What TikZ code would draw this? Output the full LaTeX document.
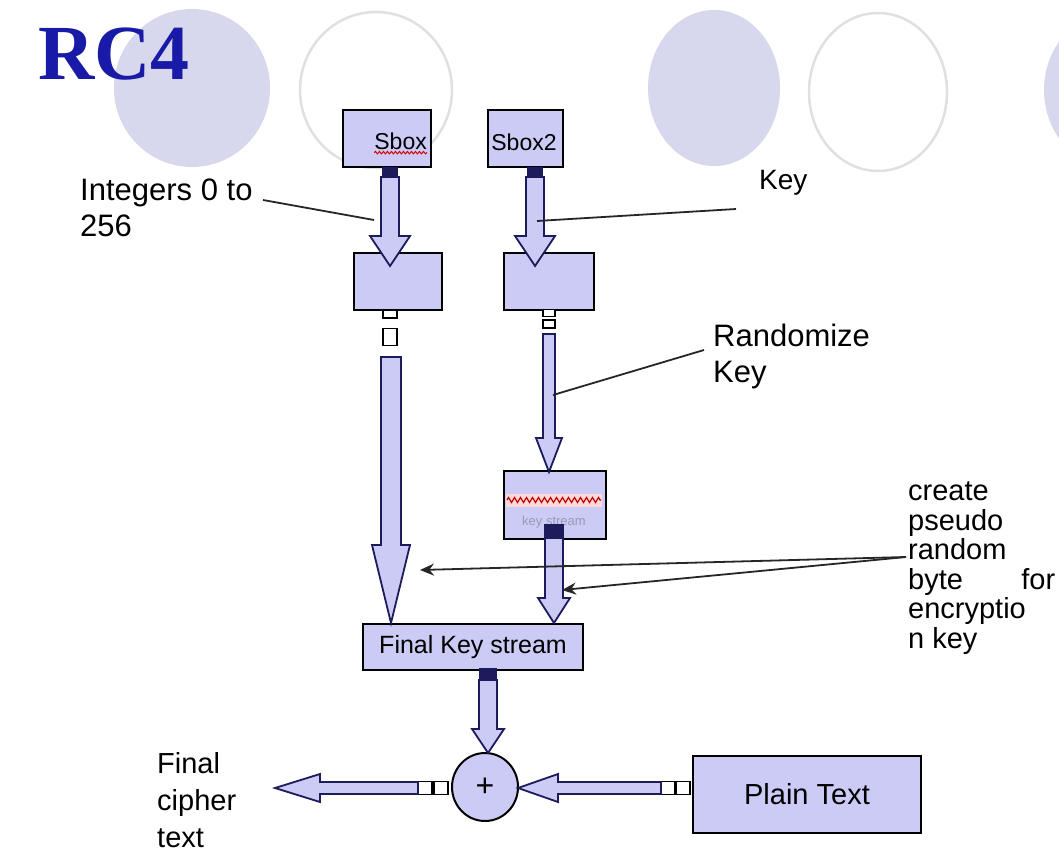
\documentclass[tikz,border=0pt]{standalone}
\usepackage{fontspec}
\setmainfont{Liberation Sans}
\newfontfamily\titlefont{Liberation Serif}
\usetikzlibrary{calc,decorations.pathmorphing,arrows.meta,shapes.geometric}
\definecolor{lav}{HTML}{CBCBF5}
\definecolor{bgdisc}{HTML}{D7D7EE}
\definecolor{ring}{HTML}{E0E0E0}
\definecolor{navy}{HTML}{1C1C5C}
\definecolor{titleblue}{HTML}{1A1AA8}
\tikzset{
  box/.style={draw=black, line width=2pt, fill=lav, inner sep=0pt, anchor=north west},
  barrow/.style={draw=navy, line width=1.8pt, fill=lav, line join=miter},
  port/.style={draw=black, line width=1.5pt, fill=white, inner sep=0pt},
  darkport/.style={draw=navy, line width=1.5pt, fill=navy, inner sep=0pt},
  leader/.style={draw=black!85, line width=1.8pt},
  lbl/.style={font=\fontsize{31}{36}\selectfont, align=left, inner sep=0pt, anchor=north west},
  boxtext/.style={font=\fontsize{23}{26}\selectfont, inner sep=0pt},
}
\newcommand\vba[5]{\draw[barrow] let \p1=(#1), \p2=(#2) in
  (\x1-#3pt,\y1) -- (\x1-#3pt,\y2+#5pt) -- (\x1-#4pt,\y2+#5pt) -- (\x1,\y2) --
  (\x1+#4pt,\y2+#5pt) -- (\x1+#3pt,\y2+#5pt) -- (\x1+#3pt,\y1) -- cycle;}
\newcommand\hba[5]{\draw[barrow] let \p1=(#1), \p2=(#2) in
  (\x1,\y1+#3pt) -- (\x2+#5pt,\y1+#3pt) -- (\x2+#5pt,\y1+#4pt) -- (\x2,\y1) --
  (\x2+#5pt,\y1-#4pt) -- (\x2+#5pt,\y1-#3pt) -- (\x1,\y1-#3pt) -- cycle;}
\begin{document}
\begin{tikzpicture}[x=1pt,y=-1pt]
\useasboundingbox (0,0) rectangle (1059,861);
\fill[white] (0,0) rectangle (1059,861);
% background decoration
\begin{scope}
\clip (0,0) rectangle (1059,861);
\fill[bgdisc] (192,88) ellipse [x radius=78, y radius=79];
\draw[ring, line width=2.5pt] (376,90) ellipse [x radius=76, y radius=78];
\fill[bgdisc] (714,88) ellipse [x radius=66, y radius=78];
\draw[ring, line width=2.5pt] (878,92) ellipse [x radius=69, y radius=79];
\fill[bgdisc] (1112,90) ellipse [x radius=68, y radius=77];
\end{scope}
% title
\node[font=\titlefont\bfseries\fontsize{78}{80}\selectfont, text=titleblue, inner sep=0pt, anchor=south west] (title) at (38,80) {RC4};

% boxes
\node[box, minimum width=88pt, minimum height=57pt] (sbox) at (342,109) {};
\node[boxtext, anchor=east] (sboxlbl) at (427,141) {Sbox};
\draw[red!85!black, line width=1pt, decorate, decoration={snake, amplitude=1.2pt, segment length=4pt}]
  ([yshift=-3pt]sboxlbl.south west) -- ([yshift=-3pt]sboxlbl.south east);
\node[box, minimum width=75pt, minimum height=57pt] (sbox2) at (487,109) {};
\node[boxtext] (sbox2lbl) at (524,142) {Sbox2};
\node[box, minimum width=88pt, minimum height=57pt] (mid1) at (353,252) {};
\node[box, minimum width=90pt, minimum height=57pt] (mid2) at (503,252) {};
\node[box, minimum width=102pt, minimum height=68pt] (wavy) at (503,470) {};
\fill[pink!60] (506,494) rectangle (602,507);
\draw[red!75!black, line width=1.2pt, decorate, decoration={zigzag, amplitude=2.5pt, segment length=6pt}]
  (507,500) -- (601,500);
\node[font=\fontsize{13}{15}\selectfont, text=navy!45, inner sep=0pt] (wavylbl) at (554,522) {key stream};
\node[box, minimum width=220pt, minimum height=46pt, font=\fontsize{25}{28}\selectfont] (fks) at (362,623) {Final Key stream};
\node[draw=black, line width=2pt, fill=lav, ellipse, minimum width=66pt, minimum height=68pt, inner sep=0pt,
  font=\fontsize{32}{34}\selectfont] (xor) at (485,787) {+};
\node[box, minimum width=228pt, minimum height=77pt, font=\fontsize{29}{32}\selectfont] (plain) at (692,755) {Plain Text};

% ports
\node[darkport, minimum width=14pt, minimum height=9pt] (p1) at (390,172) {};
\node[darkport, minimum width=14pt, minimum height=9pt] (p2) at (535,172) {};
\node[port, minimum width=14pt, minimum height=8pt] (p3) at (390,314) {};
\node[port, minimum width=14pt, minimum height=17pt] (p4) at (390,337) {};
\node[port, minimum width=12pt, minimum height=7pt] (p5) at (549,313) {};
\node[port, minimum width=12pt, minimum height=8pt] (p6) at (549,324) {};
\node[darkport, minimum width=18pt, minimum height=12pt] (p7) at (554,531) {};
\node[darkport, minimum width=16pt, minimum height=11pt] (p8) at (488,674) {};
\node[port, minimum width=14pt, minimum height=13pt] (p9) at (441,788) {};
\node[port, minimum width=14pt, minimum height=13pt] (p10) at (425,788) {};
\node[port, minimum width=14pt, minimum height=13pt] (p11) at (683,788) {};
\node[port, minimum width=14pt, minimum height=13pt] (p12) at (668,788) {};

% block arrows
\coordinate (a1s) at (390,177); \coordinate (a1t) at (390,266);
\coordinate (a2s) at (535,177); \coordinate (a2t) at (535,266);
\coordinate (a3s) at (391,357); \coordinate (a3t) at (391,623);
\coordinate (a4s) at (549,334); \coordinate (a4t) at (549,472);
\coordinate (a5s) at (554,538); \coordinate (a5t) at (554,623);
\coordinate (a6s) at (488,680); \coordinate (a6t) at (488,753);
\coordinate (a7s) at (418,788); \coordinate (a7t) at (275,788);
\coordinate (a8s) at (661,788); \coordinate (a8t) at (518,788);
\vba{a1s}{a1t}{9}{20}{30}
\vba{a2s}{a2t}{9}{20}{30}
\vba{a3s}{a3t}{10}{19}{78}
\vba{a4s}{a4t}{6}{13}{34}
\vba{a5s}{a5t}{9}{16}{25}
\vba{a6s}{a6t}{9}{16}{24}
\hba{a7s}{a7t}{6}{14}{45}
\hba{a8s}{a8t}{6}{14}{40}

% labels
\node[lbl] (ints) at (80,179) {Integers 0 to\\256};
\node[lbl, font=\fontsize{28}{32}\selectfont] (keylbl) at (759,170) {Key};
\node[lbl] (rand) at (713,324) {Randomize\\Key};
\node[lbl, font=\fontsize{29}{29.5}\selectfont] (prng) at (908,482)
  {create\\pseudo\\random\\\hbox to 147pt{byte\hfill for}\\encryptio\\n key};
\node[lbl, font=\fontsize{29}{37}\selectfont] (cipher) at (157,752) {Final\\cipher\\text};

% leader lines
\coordinate (l1a) at (263,200); \coordinate (l1b) at (374,220);
\draw[leader] (l1a) -- (l1b);
\coordinate (l2a) at (736,209); \coordinate (l2b) at (537,221);
\draw[leader] (l2a) -- (l2b);
\coordinate (l3a) at (704,350); \coordinate (l3b) at (553,395);
\draw[leader] (l3a) -- (l3b);
\coordinate (l4a) at (906,557); \coordinate (l4b) at (420,570); \coordinate (l5b) at (562,590);
\draw[leader, {Stealth[length=14pt,width=12pt]}-] (l4b) -- (l4a);
\draw[leader, {Stealth[length=14pt,width=12pt]}-] (l5b) -- (l4a);
\end{tikzpicture}
\end{document}
